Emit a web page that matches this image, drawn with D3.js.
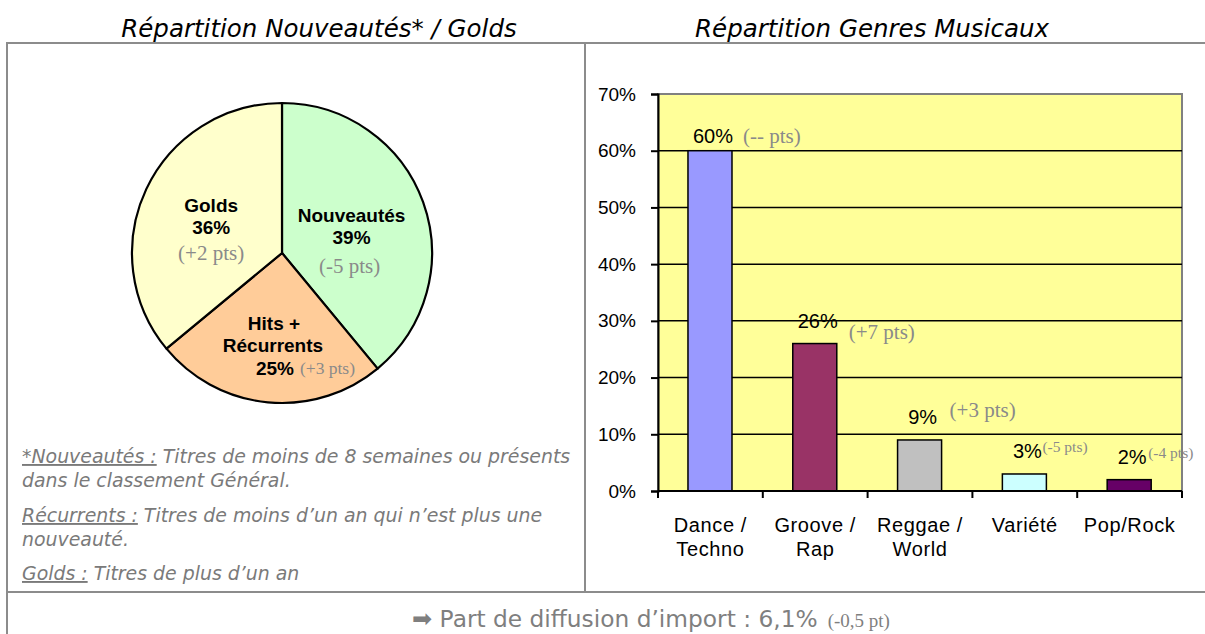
<!DOCTYPE html>
<html>
<head>
<meta charset="utf-8">
<script src="https://cdn.jsdelivr.net/npm/d3@7"></script>
<style>
  body { margin: 0; background: #fff; }
  svg { display: block; }
</style>
</head>
<body>
<svg id="chart" width="1205" height="634"></svg>
<script>
// ---- Data ---------------------------------------------------------------
// Répartition Nouveautés / Golds (pie)
const pieCategories = ["Nouveautés", "Hits + Récurrents", "Golds"];
const pieValues = [39, 25, 36];
const pieChanges = ["(-5 pts)", "(+3 pts)", "(+2 pts)"];

// Répartition Genres Musicaux (bars)
const genreCategories = ["Dance / Techno", "Groove / Rap", "Reggae / World", "Variété", "Pop/Rock"];
const genreValues = [60, 26, 9, 3, 2];
const genreChanges = ["(-- pts)", "(+7 pts)", "(+3 pts)", "(-5 pts)", "(-4 pts)"];
const yTickValues = [0, 10, 20, 30, 40, 50, 60, 70];

// Footer figure
const importShare = "6,1%";
const importChange = "(-0,5 pt)";

// ---- Styling ------------------------------------------------------------
const pieColors = ["#CCFFCC", "#FFCC99", "#FFFFCC"];
const barColors = ["#9999FF", "#993366", "#C0C0C0", "#CCFFFF", "#660066"];
const sansUI = "'DejaVu Sans', Verdana, sans-serif";
const arial = "'Liberation Sans', Arial, sans-serif";
const times = "'Liberation Serif', 'Times New Roman', serif";
const borderGrey = "#8c8c8c";
const noteGrey = "#7a7a7a";
const deltaGrey = "#8a8a8a";

const svg = d3.select("#chart");

// ---- Frame --------------------------------------------------------------
const frame = svg.append("g")
  .attr("stroke", borderGrey).attr("stroke-width", 2).attr("fill", "none");
frame.append("line").attr("x1", 6).attr("x2", 1205).attr("y1", 43).attr("y2", 43);
frame.append("line").attr("x1", 7).attr("x2", 7).attr("y1", 42).attr("y2", 634);
frame.append("line").attr("x1", 585).attr("x2", 585).attr("y1", 43).attr("y2", 592);
frame.append("line").attr("x1", 6).attr("x2", 1205).attr("y1", 592).attr("y2", 592);

// ---- Titles -------------------------------------------------------------
svg.append("text")
  .attr("x", 319).attr("y", 37).attr("text-anchor", "middle")
  .attr("font-family", sansUI).attr("font-style", "italic").attr("font-size", 24.5)
  .attr("fill", "#000")
  .text("Répartition Nouveautés* / Golds");
svg.append("text")
  .attr("x", 872).attr("y", 37).attr("text-anchor", "middle")
  .attr("font-family", sansUI).attr("font-style", "italic").attr("font-size", 24.5)
  .attr("fill", "#000")
  .text("Répartition Genres Musicaux");

// ---- Pie ----------------------------------------------------------------
const pieCx = 282, pieCy = 253, pieR = 150;
const pieG = svg.append("g").attr("transform", `translate(${pieCx},${pieCy})`);
const pie = d3.pie().sort(null).value(d => d);
const arcs = pie(pieValues);
const arc = d3.arc().innerRadius(0).outerRadius(pieR);
const labelArc = d3.arc().innerRadius(pieR * 0.5).outerRadius(pieR * 0.5);

pieG.selectAll("path.slice")
  .data(arcs)
  .join("path")
  .attr("class", "slice")
  .attr("d", arc)
  .attr("fill", (d, i) => pieColors[i])
  .attr("stroke", "#000")
  .attr("stroke-width", 2.2)
  .attr("stroke-linejoin", "round");

// label text blocks: each line = [text, dx, dy, kind]
const pieLabelLines = [
  [["Nouveautés", -1, -6, "b"], [pieValues[0] + "%", -1, 16, "b"], [pieChanges[0], -3, 45, "d"]],
  [["Hits +", -1, 2, "b"], ["Récurrents", -2, 24, "b"], [pieValues[1] + "%", 0, 47, "b"], [pieChanges[1], 25, 46, "dSmall"]],
  [["Golds", -3, -9, "b"], [pieValues[2] + "%", -3, 13, "b"], [pieChanges[2], -3, 39, "d"]]
];

arcs.forEach((a, i) => {
  const [cx, cy] = labelArc.centroid(a);
  pieLabelLines[i].forEach(([txt, dx, dy, kind]) => {
    const t = pieG.append("text")
      .attr("x", cx + dx).attr("y", cy + dy)
      .text(txt);
    if (kind === "b") {
      t.attr("font-family", arial).attr("font-weight", "bold").attr("font-size", 19)
        .attr("fill", "#000").attr("text-anchor", "middle");
    } else if (kind === "d") {
      t.attr("font-family", times).attr("font-size", 21).attr("fill", deltaGrey)
        .attr("text-anchor", "middle");
    } else {
      t.attr("font-family", times).attr("font-size", 17.5).attr("fill", deltaGrey)
        .attr("text-anchor", "start");
    }
  });
});

// ---- Footnotes ----------------------------------------------------------
const notes = [
  { y: 463, parts: [["*Nouveautés :", true], [" Titres de moins de 8 semaines ou présents", false]] },
  { y: 487, parts: [["dans le classement Général.", false]] },
  { y: 522, parts: [["Récurrents :", true], [" Titres de moins d’un an qui n’est plus une", false]] },
  { y: 546, parts: [["nouveauté.", false]] },
  { y: 580, parts: [["Golds :", true], [" Titres de plus d’un an", false]] }
];
notes.forEach(n => {
  const t = svg.append("text")
    .attr("x", 22).attr("y", n.y)
    .attr("font-family", sansUI).attr("font-style", "italic").attr("font-size", 18.9)
    .attr("fill", noteGrey);
  n.parts.forEach(([s, u]) => {
    const ts = t.append("tspan").text(s);
    if (u) ts.attr("text-decoration", "underline");
  });
});

// ---- Bar chart ----------------------------------------------------------
const plot = { left: 658, right: 1182, top: 94, bottom: 491 };
const x = d3.scaleBand().domain(genreCategories).range([plot.left, plot.right]).padding(0);
const y = d3.scaleLinear().domain([0, 70]).range([plot.bottom, plot.top]);
const bw = x.bandwidth();

// plot background with grey outline
svg.append("rect")
  .attr("x", plot.left).attr("y", plot.top)
  .attr("width", plot.right - plot.left).attr("height", plot.bottom - plot.top)
  .attr("fill", "#FFFF99").attr("stroke", "#808080").attr("stroke-width", 2);

// gridlines
svg.append("g")
  .selectAll("line")
  .data(yTickValues.filter(v => v > 0 && v < 70))
  .join("line")
  .attr("x1", plot.left).attr("x2", plot.right)
  .attr("y1", d => y(d)).attr("y2", d => y(d))
  .attr("stroke", "#000").attr("stroke-width", 1.5);

// bars
svg.append("g")
  .selectAll("rect")
  .data(genreValues)
  .join("rect")
  .attr("x", (d, i) => x(genreCategories[i]) + bw * 0.286)
  .attr("width", bw * 0.42)
  .attr("y", d => y(d))
  .attr("height", d => y(0) - y(d))
  .attr("fill", (d, i) => barColors[i])
  .attr("stroke", "#000").attr("stroke-width", 1.5);

// y axis
const yAxis = svg.append("g")
  .attr("transform", `translate(${plot.left},0)`)
  .call(d3.axisLeft(y).tickValues(yTickValues).tickFormat(d => d + "%").tickSize(7).tickPadding(15));
yAxis.select(".domain").attr("stroke", "#000").attr("stroke-width", 2);
yAxis.selectAll(".tick line").attr("stroke", "#000").attr("stroke-width", 2);
yAxis.selectAll(".tick text")
  .attr("font-family", arial).attr("font-size", 19).attr("fill", "#000");

// x axis baseline and category separators
const xAxisG = svg.append("g");
xAxisG.append("line")
  .attr("x1", plot.left).attr("x2", plot.right)
  .attr("y1", y(0)).attr("y2", y(0))
  .attr("stroke", "#000").attr("stroke-width", 2);
const sepPositions = genreCategories.map(c => x(c)).concat([x.range()[1]]);
xAxisG.selectAll("line.sep")
  .data(sepPositions)
  .join("line")
  .attr("class", "sep")
  .attr("x1", d => d).attr("x2", d => d)
  .attr("y1", y(0)).attr("y2", y(0) + 7)
  .attr("stroke", "#000").attr("stroke-width", 2);

// category labels (split on " / ")
genreCategories.forEach(c => {
  const parts = c.includes(" / ") ? [c.split(" / ")[0] + " /", c.split(" / ")[1]] : [c];
  const t = svg.append("text")
    .attr("text-anchor", "middle")
    .attr("font-family", arial).attr("font-size", 20).attr("letter-spacing", 0.6)
    .attr("fill", "#000");
  parts.forEach((p, k) => {
    t.append("tspan")
      .attr("x", x(c) + bw / 2)
      .attr("y", 532 + k * 24)
      .text(p);
  });
});

// value labels and change labels
const valueLabelDy = [-8, -16, -16, -16, -16];
const changeDx = [33, 34, 30, 18, 19];
const changeDy = [0, 11, -7, -6, -6];
const changeSize = [21, 21, 21, 15.5, 15.5];
genreValues.forEach((v, i) => {
  const cx = x(genreCategories[i]) + bw * 0.286 + bw * 0.21;
  const ly = y(v) + valueLabelDy[i];
  svg.append("text")
    .attr("x", cx + 3).attr("y", ly)
    .attr("text-anchor", "middle")
    .attr("font-family", arial).attr("font-size", 20).attr("fill", "#000")
    .text(Math.round(v) + "%");
  svg.append("text")
    .attr("x", cx + changeDx[i]).attr("y", ly + changeDy[i])
    .attr("font-family", times).attr("font-size", changeSize[i]).attr("fill", deltaGrey)
    .text(genreChanges[i]);
});

// ---- Footer -------------------------------------------------------------
const footer = svg.append("text")
  .attr("x", 651).attr("y", 627).attr("text-anchor", "middle")
  .attr("fill", "#7f7f7f");
footer.append("tspan")
  .attr("font-family", "'DejaVu Sans'").attr("font-size", 24)
  .text("\u27A1\uFE0E");
footer.append("tspan")
  .attr("font-family", sansUI).attr("font-size", 23.3)
  .text(" Part de diffusion d’import : " + importShare);
footer.append("tspan")
  .attr("font-family", times).attr("font-size", 19).attr("dx", 10)
  .text(importChange);
</script>
</body>
</html>
